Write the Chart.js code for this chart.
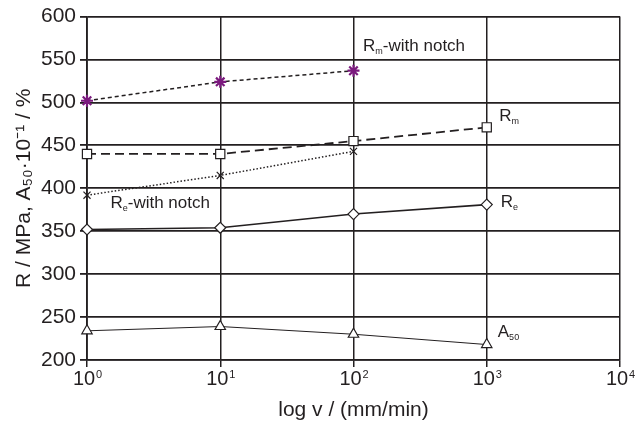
<!DOCTYPE html>
<html lang="en">
<head>
  <meta charset="UTF-8">
  <title>R and A50 vs log v</title>
  <script src="https://cdn.jsdelivr.net/npm/chart.js"></script>
  <style>
    body { margin: 0; background: #fff; }
    #wrap { width: 635px; height: 424px; }
  </style>
</head>
<body>
<div id="wrap"><canvas id="chart"></canvas></div>
<script>
// strain rate v in mm/min (log axis)
const speeds = [1, 10, 100, 1000];
const xTicks = [1, 10, 100, 1000, 10000];
const xExponents = ["0", "1", "2", "3", "4"];

// values
const rmNotch = [502, 524, 537];
const rm = [440, 440, 455, 471];
const reNotch = [392, 415, 443];
const re = [352, 354, 370, 381];
const a50 = [234, 239, 230, 218];

const ink = "#231f20";
const FONT = "'Liberation Sans', Arial, sans-serif";
const X_SHIFT = -3;

const pts = (vals) => vals.map((v, i) => ({ x: speeds[i], y: v }));

// curve labels: main text, subscript, tail, anchor in data units
const curveLabels = [
  { main: "R", sub: "m", tail: "-with notch", x: 118, y: 560 },
  { main: "R", sub: "m", tail: "", x: 1240, y: 478 },
  { main: "R", sub: "e", tail: "-with notch", x: 1.5, y: 377 },
  { main: "R", sub: "e", tail: "", x: 1275, y: 378 },
  { main: "A", sub: "50", tail: "", x: 1210, y: 227 }
];

const labelPlugin = {
  id: "curveLabels",
  afterDatasetsDraw(chart) {
    const { ctx, scales } = chart;
    ctx.save();
    ctx.fillStyle = ink;
    ctx.textBaseline = "alphabetic";
    curveLabels.forEach(l => {
      let x = scales.x.getPixelForValue(l.x);
      const y = scales.y.getPixelForValue(l.y);
      ctx.font = "17px " + FONT;
      ctx.fillText(l.main, x, y);
      x += ctx.measureText(l.main).width;
      ctx.font = "9px " + FONT;
      ctx.fillText(l.sub, x, y + 3);
      x += ctx.measureText(l.sub).width;
      ctx.font = "17px " + FONT;
      if (l.tail) ctx.fillText(l.tail, x, y);
    });

    // exponents of the 10^n tick labels
    const xs = scales.x;
    ctx.font = "20px " + FONT;
    const baseW = ctx.measureText("10").width;
    ctx.font = "11px " + FONT;
    ctx.textBaseline = "top";
    xTicks.forEach((v, i) => {
      const px = xs.getPixelForValue(v) + X_SHIFT;
      ctx.fillText(xExponents[i], px + baseW / 2 + 1, xs.top + 9);
    });
    ctx.restore();
  }
};

new Chart(document.getElementById("chart"), {
  type: "line",
  data: {
    datasets: [
      { label: "Rm-with notch", data: pts(rmNotch), borderColor: ink, borderWidth: 1.5, borderDash: [4, 3], clip: false,
        pointStyle: "star", pointRadius: 6, pointBorderColor: "#7b1a7e", pointBorderWidth: 2.2, pointBackgroundColor: "#7b1a7e" },
      { label: "Rm", data: pts(rm), borderColor: ink, borderWidth: 1.8, borderDash: [9, 5], clip: false,
        pointStyle: "rect", pointRadius: 6.5, pointBorderColor: ink, pointBorderWidth: 1.2, pointBackgroundColor: "#fff" },
      { label: "Re-with notch", data: pts(reNotch), borderColor: ink, borderWidth: 1.5, borderDash: [1.5, 2], clip: false,
        pointStyle: "crossRot", pointRadius: 5, pointBorderColor: ink, pointBorderWidth: 1.2 },
      { label: "Re", data: pts(re), borderColor: ink, borderWidth: 1.6, clip: false,
        pointStyle: "rectRot", pointRadius: 5.5, pointBorderColor: ink, pointBorderWidth: 1.2, pointBackgroundColor: "#fff" },
      { label: "A50", data: pts(a50), borderColor: ink, borderWidth: 1, clip: false,
        pointStyle: "triangle", pointRadius: 6, pointBorderColor: ink, pointBorderWidth: 1.2, pointBackgroundColor: "#fff" }
    ]
  },
  options: {
    responsive: true,
    maintainAspectRatio: false,
    animation: false,
    layout: { padding: { top: 14, right: 15, left: 0, bottom: 0 } },
    plugins: { legend: { display: false }, tooltip: { enabled: false } },
    scales: {
      x: {
        type: "logarithmic",
        min: 1,
        max: 10000,
        afterBuildTicks: (axis) => { axis.ticks = xTicks.map(v => ({ value: v })); },
        afterFit: (axis) => { axis.height = 64; },
        grid: { color: ink, lineWidth: 1.5, tickLength: 7 },
        border: { color: ink, width: 1.5 },
        ticks: {
          color: ink, padding: 0, maxRotation: 0, autoSkip: false, labelOffset: X_SHIFT,
          font: { family: FONT, size: 20 },
          callback: () => "10"
        },
        title: { display: true, text: "log v / (mm/min)", color: ink, padding: { top: 0, bottom: 1 },
          font: { family: FONT, size: 21 } }
      },
      y: {
        min: 200,
        max: 600,
        afterFit: (axis) => { axis.width = 87; },
        grid: { color: ink, lineWidth: 1.8, tickLength: 7 },
        border: { color: ink, width: 1.8 },
        ticks: { stepSize: 50, color: ink, padding: 4, font: { family: FONT, size: 21 } },
        title: { display: true, text: "R / MPa, A\u2085\u2080\u00b710\u207b\u00b9 / %", color: ink,
          padding: { top: 12, bottom: 0 }, font: { family: FONT, size: 21 } }
      }
    }
  },
  plugins: [labelPlugin]
});
</script>
</body>
</html>
